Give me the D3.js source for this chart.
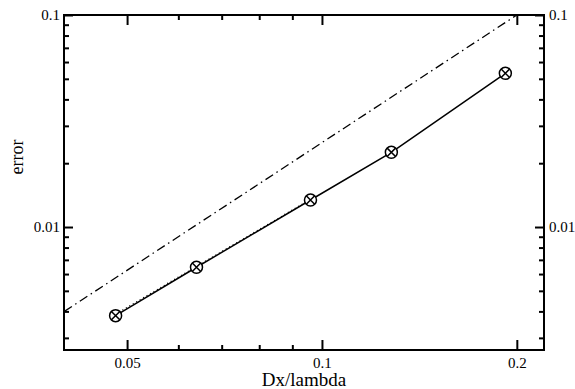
<!DOCTYPE html>
<html>
<head>
<meta charset="utf-8">
<script src="https://cdn.jsdelivr.net/npm/d3@7"></script>
<style>
  body { margin: 0; background: #fff; }
  text { font-family: "Liberation Serif", "DejaVu Serif", serif; fill: #000; }
</style>
</head>
<body>
<div id="chart"></div>
<script>
// data
var dxLambda = [0.048, 0.064, 0.096, 0.128, 0.192];
var errValues = [0.00382, 0.00646, 0.01341, 0.02251, 0.0531];
var errDotted = [0.00388, 0.00652, 0.01350];
var refX = [0.04, 0.2];
var refY = [0.004, 0.1];

var xMajor = [0.05, 0.1, 0.2];
var xMinor = [0.06, 0.07, 0.08, 0.09];
var yMajor = [0.01, 0.1];
var yMinor = [0.003, 0.004, 0.005, 0.006, 0.007, 0.008, 0.009,
              0.02, 0.03, 0.04, 0.05, 0.06, 0.07, 0.08, 0.09];

var svgWidth = 575;
var svgHeight = 389;

var margin = { top: 15, right: 31, bottom: 39, left: 64 };
var width = svgWidth - margin.left - margin.right;
var height = svgHeight - margin.top - margin.bottom;

var svg = d3.select("#chart")
    .append("svg")
    .attr("width", svgWidth)
    .attr("height", svgHeight);

var chartGroup = svg.append("g")
    .attr("transform", `translate(${margin.left}, ${margin.top})`);

var x = d3.scaleLog().domain([0.03995, 0.2203]).range([0, width]);
var y = d3.scaleLog().domain([0.00263, 0.1]).range([height, 0]);

var fmt = d => String(d);

// axes: ticks pointing inward, mirrored on all four sides
function drawAxes() {
    var bottomMajor = d3.axisBottom(x).tickValues(xMajor).tickSize(-10).tickPadding(7).tickFormat(fmt);
    var bottomMinor = d3.axisBottom(x).tickValues(xMinor).tickSize(-5).tickFormat("");
    var topMajor = d3.axisTop(x).tickValues(xMajor).tickSize(-10).tickFormat("");
    var topMinor = d3.axisTop(x).tickValues(xMinor).tickSize(-5).tickFormat("");
    var leftMajor = d3.axisLeft(y).tickValues(yMajor).tickSize(-9).tickPadding(4).tickFormat(fmt);
    var leftMinor = d3.axisLeft(y).tickValues(yMinor).tickSize(-5).tickFormat("");
    var rightMajor = d3.axisRight(y).tickValues(yMajor).tickSize(-9).tickPadding(5).tickFormat(fmt);
    var rightMinor = d3.axisRight(y).tickValues(yMinor).tickSize(-5).tickFormat("");

    chartGroup.append("g").attr("transform", `translate(0, ${height})`).call(bottomMajor);
    chartGroup.append("g").attr("transform", `translate(0, ${height})`).call(bottomMinor);
    chartGroup.append("g").call(topMajor);
    chartGroup.append("g").call(topMinor);
    chartGroup.append("g").call(leftMajor);
    chartGroup.append("g").call(leftMinor);
    chartGroup.append("g").attr("transform", `translate(${width}, 0)`).call(rightMajor);
    chartGroup.append("g").attr("transform", `translate(${width}, 0)`).call(rightMinor);

    chartGroup.selectAll(".domain").remove();
    chartGroup.selectAll(".tick line").attr("stroke", "#000").attr("stroke-width", 2);
    chartGroup.selectAll(".tick text")
        .style("font-size", "15px")
        .style("font-family", "Liberation Serif");

    chartGroup.append("rect")
        .attr("width", width)
        .attr("height", height)
        .attr("fill", "none")
        .attr("stroke", "#000")
        .attr("stroke-width", 2);
}
drawAxes();

var line = d3.line()
    .x(d => x(d[0]))
    .y(d => y(d[1]));

// reference slope (dash-dot)
chartGroup.append("path")
    .datum(d3.zip(refX, refY))
    .attr("d", line)
    .attr("fill", "none")
    .attr("stroke", "#000")
    .attr("stroke-width", 1.3)
    .attr("stroke-dasharray", "9,4,1.5,4");

// dotted companion series
chartGroup.append("path")
    .datum(d3.zip(dxLambda.slice(0, 3), errDotted))
    .attr("d", line)
    .attr("fill", "none")
    .attr("stroke", "#000")
    .attr("stroke-width", 1.3)
    .attr("stroke-dasharray", "1,3");

// main series
var pts = d3.zip(dxLambda, errValues);
chartGroup.append("path")
    .datum(pts)
    .attr("d", line)
    .attr("fill", "none")
    .attr("stroke", "#000")
    .attr("stroke-width", 1.5);

var markers = chartGroup.selectAll(".marker")
    .data(pts)
    .enter()
    .append("g")
    .attr("class", "marker")
    .attr("transform", d => `translate(${x(d[0])}, ${y(d[1])})`);

markers.append("circle")
    .attr("r", 6)
    .attr("fill", "#fff")
    .attr("stroke", "#000")
    .attr("stroke-width", 1.5);

markers.append("path")
    .attr("d", "M-4.2,-4.2L4.2,4.2M-4.2,4.2L4.2,-4.2")
    .attr("stroke", "#000")
    .attr("stroke-width", 1.5);

// axis labels
svg.append("text")
    .attr("transform", `translate(${margin.left + width / 2}, 386)`)
    .attr("text-anchor", "middle")
    .style("font-size", "19px")
    .text("Dx/lambda");

svg.append("text")
    .attr("transform", `translate(23, 157) rotate(-90)`)
    .attr("text-anchor", "middle")
    .style("font-size", "18px")
    .text("error");
</script>
</body>
</html>
